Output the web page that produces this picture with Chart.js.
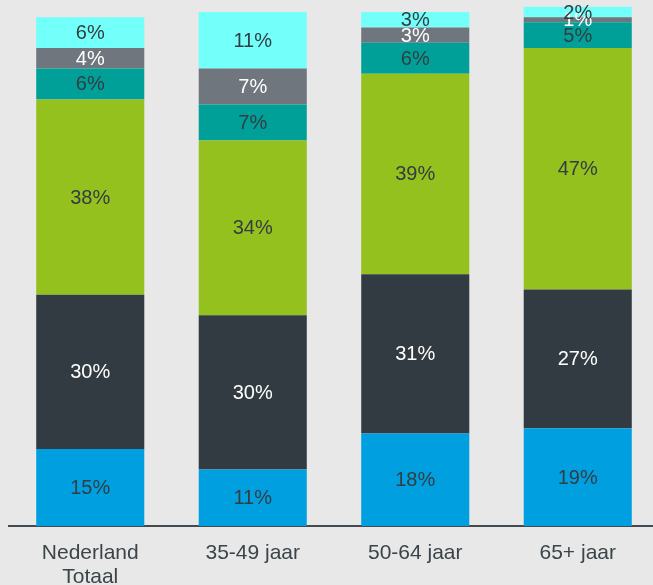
<!DOCTYPE html>
<html lang="nl">
<head>
  <meta charset="UTF-8">
  <title>Verdeling per leeftijdsgroep</title>
  <script src="https://cdn.jsdelivr.net/npm/chart.js"></script>
  <style>
    html, body { margin: 0; padding: 0; background: #e8e8e8; overflow: hidden; }
    #wrap { width: 659px; height: 585px; }
  </style>
</head>
<body>
  <div id="wrap"><canvas id="chart" width="659" height="585"></canvas></div>

  <script>
    // Categories (x axis) and stacked series, bottom to top
    const categories = [['Nederland', 'Totaal'], '35-49 jaar', '50-64 jaar', '65+ jaar'];
    const blauw  = [15, 11, 18, 19];
    const donker = [30, 30, 31, 27];
    const groen  = [38, 34, 39, 47];
    const teal   = [6, 7, 6, 5];
    const grijs  = [4, 7, 3, 1];
    const cyaan  = [6, 11, 3, 2];

    const series = [
      { label: 'blauw',  data: blauw,  color: '#009fe0', text: '#333d42' },
      { label: 'donker', data: donker, color: '#313b41', text: '#ffffff' },
      { label: 'groen',  data: groen,  color: '#95c11f', text: '#333d42' },
      { label: 'teal',   data: teal,   color: '#00a099', text: '#333d42' },
      { label: 'grijs',  data: grijs,  color: '#6f767d', text: '#ffffff' },
      { label: 'cyaan',  data: cyaan,  color: '#73fffa', text: '#333d42' }
    ];

    const FONT = '"Liberation Sans", Arial, sans-serif';

    // Draws the percentage in the middle of every segment
    const segmentLabels = {
      id: 'segmentLabels',
      afterDatasetsDraw(chart) {
        const ctx = chart.ctx;
        ctx.save();
        ctx.font = '20px ' + FONT;
        ctx.textAlign = 'center';
        ctx.textBaseline = 'middle';
        chart.data.datasets.forEach((ds, i) => {
          const meta = chart.getDatasetMeta(i);
          meta.data.forEach((bar, j) => {
            const v = ds.data[j];
            if (!v) return;
            ctx.fillStyle = series[i].text;
            ctx.fillText(v + '%', bar.x, (bar.y + bar.base) / 2 + 1);
          });
        });
        ctx.restore();
      }
    };

    new Chart(document.getElementById('chart'), {
      type: 'bar',
      data: {
        labels: categories,
        datasets: series.map(s => ({
          label: s.label,
          data: s.data,
          backgroundColor: s.color,
          borderWidth: 0,
          barPercentage: 0.665,
          categoryPercentage: 1,
          clip: false
        }))
      },
      options: {
        responsive: false,
        animation: false,
        layout: { padding: { top: 12, left: 9, right: 0, bottom: 0 } },
        plugins: {
          legend: { display: false },
          tooltip: { enabled: false }
        },
        scales: {
          x: {
            stacked: true,
            grid: { display: false, drawTicks: false },
            border: { display: true, color: '#444b50', width: 2 },
            ticks: {
              color: '#3a4449',
              padding: 15,
              font: { family: FONT, size: 21, lineHeight: 1.15 }
            },
            afterFit(axis) { axis.height = 59; }
          },
          y: {
            stacked: true,
            display: false,
            min: 0,
            max: 100
          }
        }
      },
      plugins: [segmentLabels]
    });
  </script>
</body>
</html>
